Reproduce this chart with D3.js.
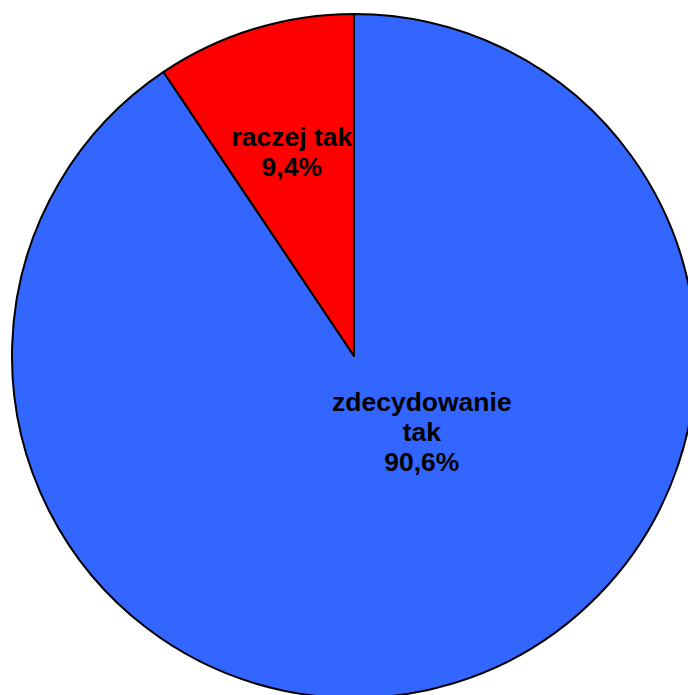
<!DOCTYPE html>
<html>
<head>
<meta charset="utf-8">
<script src="https://cdn.jsdelivr.net/npm/d3@7"></script>
<style>
  html, body { margin: 0; padding: 0; background: #fff; overflow: hidden; }
  svg { display: block; }
</style>
</head>
<body>
<svg id="chart" width="688" height="695"></svg>
<script>
  // answers and their shares (%)
  const categories = ['zdecydowanie tak', 'raczej tak'];
  const values = [90.6, 9.4];
  const labelLines = [['zdecydowanie', 'tak', '90,6%'], ['raczej tak', '9,4%']];
  const colors = ['#3366ff', '#ff0000'];

  const width = 688;
  const height = 695;
  const cx = 354;
  const cy = 356;
  const radius = 342;

  const svg = d3.select('#chart');
  const g = svg.append('g').attr('transform', `translate(${cx},${cy})`);

  const pie = d3.pie().sort(null).value(d => d);
  const arcs = pie(values);
  const arc = d3.arc().innerRadius(0).outerRadius(radius);

  g.selectAll('path.slice')
    .data(arcs)
    .enter()
    .append('path')
    .attr('class', 'slice')
    .attr('d', arc)
    .attr('fill', (d, i) => colors[i])
    .attr('stroke', '#000')
    .attr('stroke-width', 2)
    .attr('stroke-linejoin', 'round');

  // label placement: angle within slice (0..1) and distance from centre (fraction of radius)
  const place = [
    { t: 0.424, r: 0.298 },
    { t: 0.5, r: 0.625 }
  ];
  const lineH = 30;

  g.selectAll('text.lbl')
    .data(arcs)
    .enter()
    .append('text')
    .attr('class', 'lbl')
    .attr('text-anchor', 'middle')
    .style('font-family', '"Liberation Sans", Arial, sans-serif')
    .style('font-weight', 'bold')
    .style('font-size', '26.5px')
    .attr('fill', '#000')
    .each(function(d, i) {
      let a = d.startAngle + (d.endAngle - d.startAngle) * place[i].t;
      let r = radius * place[i].r;
      let x = Math.sin(a) * r;
      let y = -Math.cos(a) * r;
      let lines = labelLines[i];
      let y0 = y - (lines.length - 1) * lineH / 2 + 9;
      d3.select(this)
        .selectAll('tspan')
        .data(lines)
        .enter()
        .append('tspan')
        .attr('x', x)
        .attr('y', (t, k) => y0 + k * lineH)
        .text(String);
    });
</script>
</body>
</html>
